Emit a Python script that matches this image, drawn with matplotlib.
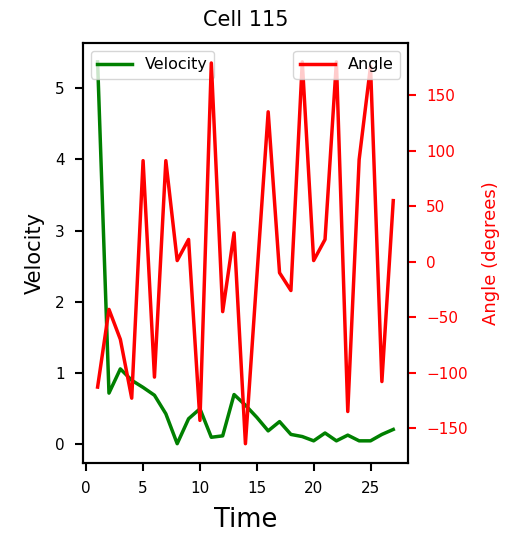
import matplotlib
matplotlib.use("Agg")
import matplotlib.pyplot as plt

#### Data ####

time = list(range(1, 28))
velocity = [5.37, 0.72, 1.06, 0.90, 0.80, 0.69, 0.43, 0.01, 0.36, 0.50,
            0.10, 0.12, 0.70, 0.55, 0.38, 0.19, 0.32, 0.14, 0.11, 0.05,
            0.16, 0.05, 0.13, 0.05, 0.05, 0.14, 0.21]
angle = [-113, -43, -70, -123, 91, -104, 91, 1, 20, -143,
         179, -45, 26, -164, -14, 135, -10, -26, 180, 1,
         20, 180, -135, 92, 176, -108, 55]

#### Plot ####

fig = plt.figure(figsize=(5.05, 5.35), dpi=100)
ax = fig.add_axes([0.164, 0.135, 0.644, 0.785])
ax2 = ax.twinx()

ax.plot(time, velocity, color='green', linewidth=2.5, label='Velocity')
ax2.plot(time, angle, color='red', linewidth=2.5, label='Angle')

ax.set_title('Cell 115', fontsize=15, pad=12)
ax.set_xlabel('Time', fontsize=18.5, labelpad=8)
ax.set_ylabel('Velocity', fontsize=15, labelpad=7.5)
ax2.set_ylabel('Angle (degrees)', fontsize=13, color='red', labelpad=10)

ax.tick_params(labelsize=11, width=1.5, length=6, pad=7)
ax2.tick_params(axis='y', labelsize=11, width=1.5, length=6, pad=7,
                colors='red')
for a in (ax, ax2):
    for s in a.spines.values():
        s.set_linewidth(1.5)

ax.legend(loc='upper left', fontsize=11.5, handlelength=2.2)
ax2.legend(loc='upper right', fontsize=11.5, handlelength=2.2)

fig.savefig('out.png', dpi=100)
